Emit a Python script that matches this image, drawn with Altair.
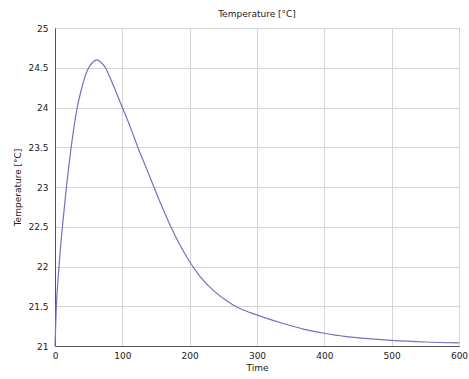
import altair as alt
import pandas as pd

time = [0, 1, 2, 4, 6, 8, 11, 14, 17, 20, 24, 28, 33, 39, 45, 50, 55, 62, 68, 75, 80, 90, 100, 112, 123, 135,
        146, 158, 171, 185, 200, 215, 235, 255, 270, 290, 310, 340, 370, 400, 430, 460, 500, 550, 600]
temp = [21.0, 21.25, 21.5, 21.78, 22.0, 22.22, 22.5, 22.75, 23.0, 23.22, 23.5, 23.74, 24.0, 24.22, 24.4, 24.5,
        24.56, 24.6, 24.57, 24.5, 24.41, 24.21, 24.0, 23.75, 23.5, 23.25,
        23.02, 22.77, 22.52, 22.28, 22.06, 21.88, 21.70, 21.57, 21.49, 21.42, 21.36, 21.28, 21.21, 21.16, 21.12, 21.095, 21.07, 21.05, 21.04]

x_ticks = [0, 100, 200, 300, 400, 500, 600]
y_ticks = [21, 21.5, 22, 22.5, 23, 23.5, 24, 24.5, 25]

df = pd.DataFrame({"Time": time, "Temp": temp})

FONT = "DejaVu Sans"

chart = alt.Chart(df).mark_line(color="#7272c2", strokeWidth=1.2, interpolate="monotone").encode(
    x=alt.X("Time:Q", scale=alt.Scale(domain=[0, 600], nice=False, zero=False),
            axis=alt.Axis(values=x_ticks, title="Time", format="d",
                          labelPadding=5, titlePadding=3)),
    y=alt.Y("Temp:Q", scale=alt.Scale(domain=[21, 25], nice=False, zero=False),
            axis=alt.Axis(values=y_ticks, format="~g",
                          title="Temperature [°C]", labelPadding=7, titlePadding=5)),
).properties(
    width=404,
    height=318,
    background="white",
    title=alt.TitleParams("Temperature [°C]", fontSize=9, font=FONT, fontWeight="normal",
                          color="#222222", offset=5, anchor="middle"),
    autosize=alt.AutoSizeParams(type="none"),
    padding={"left": 55, "top": 28, "right": 10, "bottom": 33},
).configure_view(
    stroke="#555555", strokeWidth=1
).configure_axis(
    labelFont=FONT, titleFont=FONT, labelFontSize=9, titleFontSize=9,
    titleFontWeight="normal", labelColor="#222222", titleColor="#222222",
    grid=True, gridColor="#d4d4d4", gridWidth=1, ticks=False,
    domainColor="#555555", labelFlush=False, labelOverlap=False
)

chart.save("out.html", embed_options={"renderer": "svg", "actions": False})
